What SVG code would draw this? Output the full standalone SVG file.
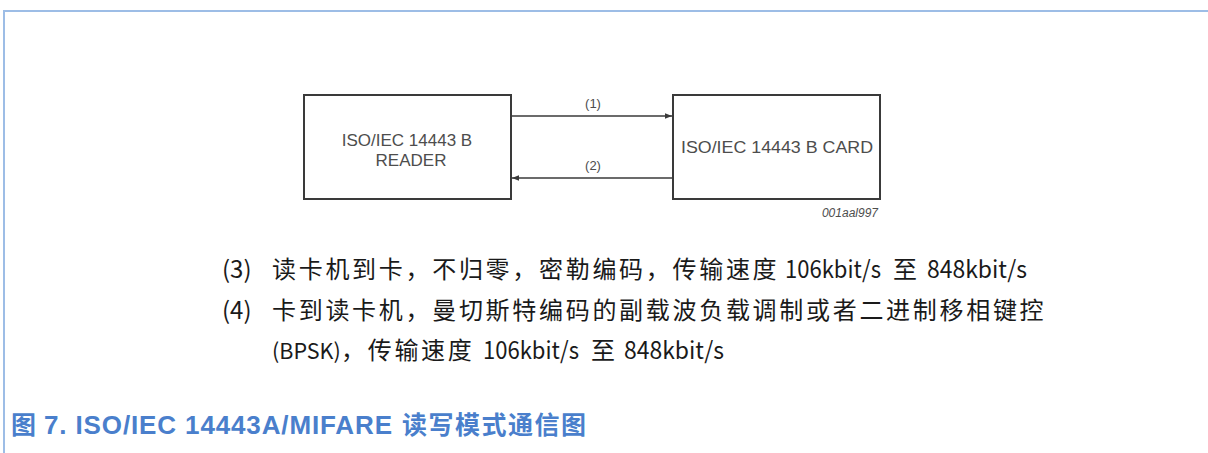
<svg xmlns="http://www.w3.org/2000/svg" width="1208" height="453" viewBox="0 0 1208 453">
<defs>
<style>
.frame{stroke:#9dbde6;stroke-width:2;fill:none}
.box{fill:#fff;stroke:#3a3a3a;stroke-width:2}
.btxt{font-family:"Liberation Sans",Arial,sans-serif;font-size:17px;fill:#4d4d4d;text-anchor:middle}
.lbl{font-family:"Liberation Sans",Arial,sans-serif;font-size:13px;fill:#4d4d4d;text-anchor:middle}
.code{font-family:"Liberation Sans",Arial,sans-serif;font-size:12px;font-style:italic;fill:#4d4d4d;text-anchor:end}
.conn{stroke:#3a3a3a;stroke-width:1.5;fill:none}
.body{font-family:"Noto Sans CJK SC","Noto Sans",sans-serif;font-size:24px;fill:#1a1a1a}
.cjk{letter-spacing:2.7px}
.title{font-family:"Liberation Sans","Noto Sans CJK SC",sans-serif;font-size:26px;font-weight:bold;fill:#4a7fcc}
.tcjk{font-family:"Noto Sans CJK SC",sans-serif;font-size:25px;font-weight:bold;letter-spacing:1.5px}
</style>
<marker id="ah" viewBox="0 0 10 10" refX="10" refY="5" markerWidth="7" markerHeight="7" orient="auto" markerUnits="userSpaceOnUse">
<path d="M0,1 L10,5 L0,9 z" fill="#3a3a3a"/>
</marker>
</defs>
<rect width="1208" height="453" fill="#fff"/>
<path class="frame" d="M4,453 V11 H1208"/>
<g id="reader">
<rect class="box" x="304" y="95" width="207" height="104"/>
<text class="btxt" x="407" y="146">ISO/IEC 14443 B</text>
<text class="btxt" x="411" y="166">READER</text>
</g>
<g id="card">
<rect class="box" x="673" y="95" width="207" height="104"/>
<text class="btxt" x="777" y="153" textLength="192" lengthAdjust="spacingAndGlyphs">ISO/IEC 14443 B CARD</text>
<text class="code" x="878" y="217">001aal997</text>
</g>
<g id="connectors">
<line class="conn" x1="512" y1="116" x2="672" y2="116" marker-end="url(#ah)"/>
<text class="lbl" x="593" y="108">(1)</text>
<line class="conn" x1="672" y1="178" x2="512" y2="178" marker-end="url(#ah)"/>
<text class="lbl" x="593" y="170">(2)</text>
</g>
<g id="notes">
<text class="body" y="278"><tspan x="222">(3)</tspan><tspan x="272" class="cjk">读卡机到卡，不归零，密勒编码，传输速度</tspan><tspan x="785" textLength="96" lengthAdjust="spacingAndGlyphs">106kbit/s</tspan><tspan x="893">至</tspan><tspan x="927" textLength="100" lengthAdjust="spacingAndGlyphs">848kbit/s</tspan></text>
<text class="body" y="319"><tspan x="222">(4)</tspan><tspan x="272" class="cjk">卡到读卡机，曼切斯特编码的副载波负载调制或者二进制移相键控</tspan></text>
<text class="body" y="359"><tspan x="272" style="font-size:21.5px">(BPSK)</tspan><tspan x="341" class="cjk">，传输速度</tspan><tspan x="483" textLength="96" lengthAdjust="spacingAndGlyphs">106kbit/s</tspan><tspan x="591">至</tspan><tspan x="624" textLength="100" lengthAdjust="spacingAndGlyphs">848kbit/s</tspan></text>
</g>
<g id="caption">
<text class="title" y="434"><tspan x="11" class="tcjk">图</tspan><tspan x="44" textLength="348">7. ISO/IEC 14443A/MIFARE</tspan><tspan x="402" class="tcjk">读写模式通信图</tspan></text>
</g>
</svg>
